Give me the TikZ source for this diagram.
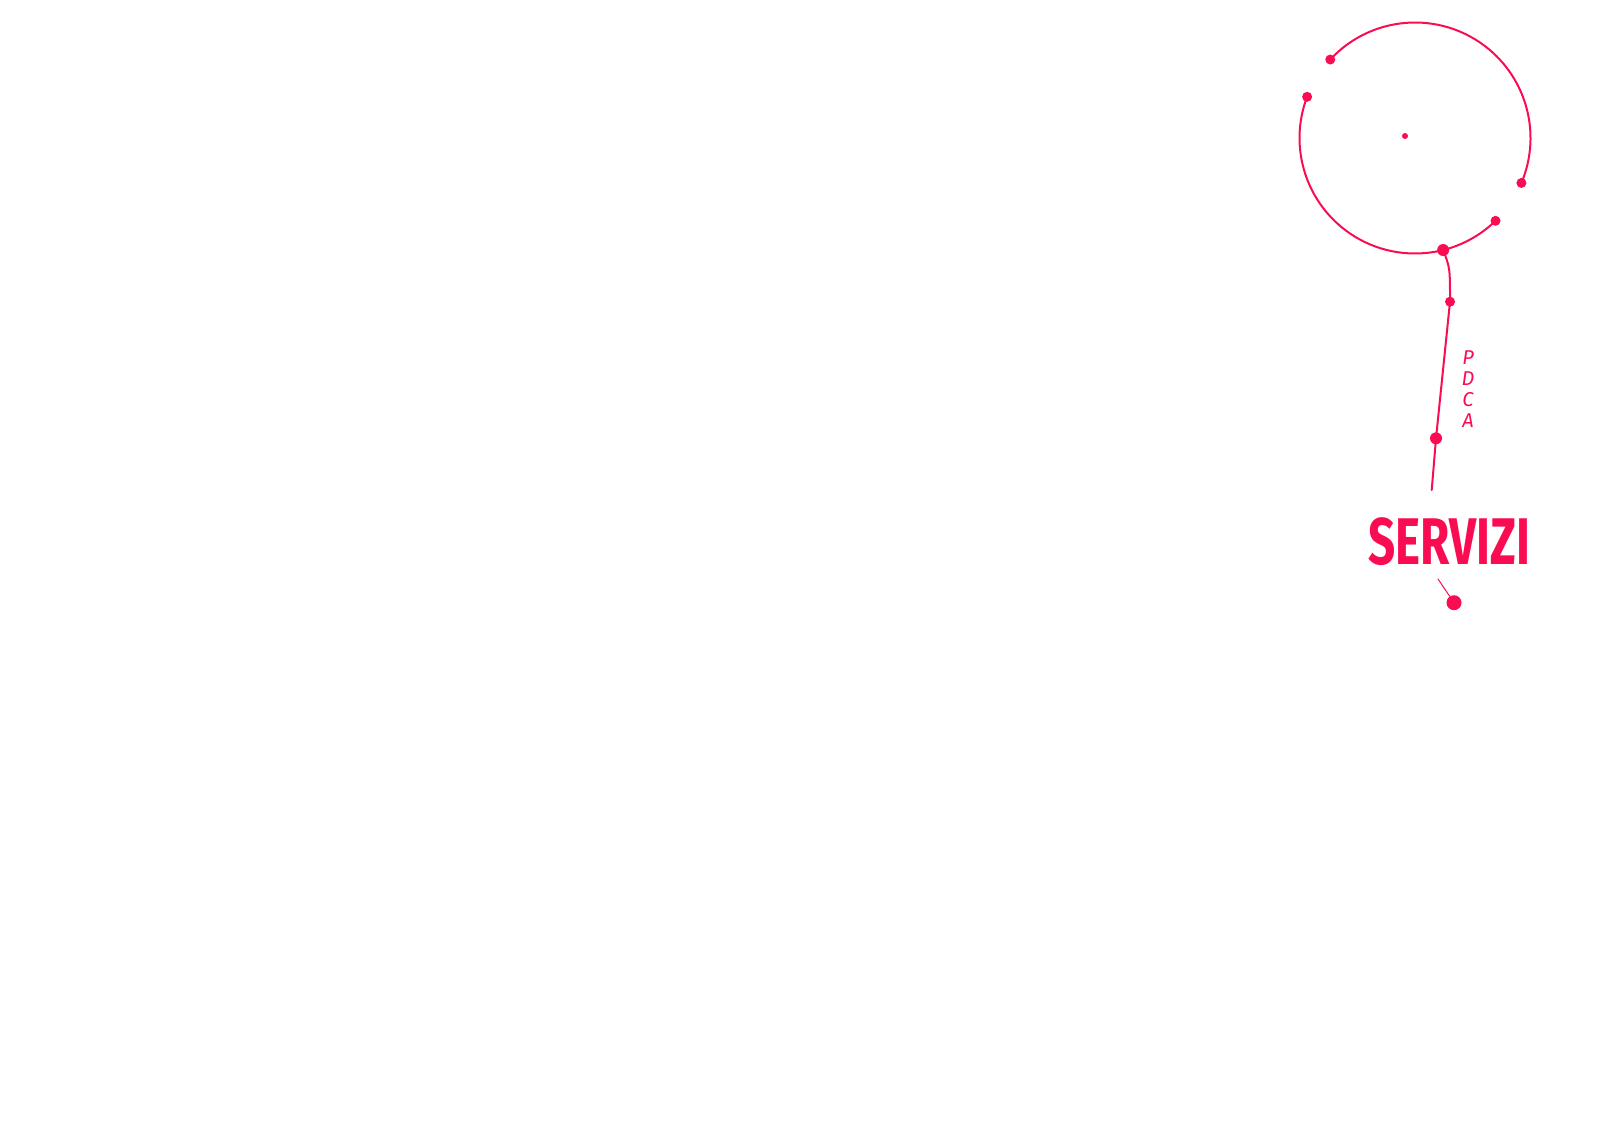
\documentclass[tikz,border=0pt]{standalone}
\usepackage{fontspec}
\setmainfont{Fira Sans}
\definecolor{ink}{RGB}{250,12,82}
\begin{document}
\begin{tikzpicture}[x=0.5pt,y=-0.5pt,
  line/.style={draw=ink,line width=1pt,line cap=round},
  thinline/.style={draw=ink,line width=0.5pt,line cap=round},
  dot/.style={circle,fill=ink,inner sep=0pt,minimum size=5pt},
  bigdot/.style={circle,fill=ink,inner sep=0pt,minimum size=6pt},
  smalldot/.style={circle,fill=ink,inner sep=0pt,minimum size=3pt},
  pindot/.style={circle,fill=ink,inner sep=0pt,minimum size=7.5pt},
  label/.style={text=ink,inner sep=0pt}]
\useasboundingbox (0,0) rectangle (1600,1131);
\coordinate (c) at (1415,138);
% circle arcs
\draw[line] ([shift={(-137.2:115.5)}]c) arc[start angle=-137.2,end angle=22.9,radius=115.5];
\draw[line] ([shift={(45.8:115.5)}]c) arc[start angle=45.8,end angle=200.9,radius=115.5];
% dots on the circle
\node[dot] (a1s) at ([shift={(-137.2:115.5)}]c) {};
\node[dot] (a1e) at ([shift={(22.9:115.5)}]c) {};
\node[dot] (a2s) at ([shift={(45.8:115.5)}]c) {};
\node[dot] (a2e) at ([shift={(200.9:115.5)}]c) {};
\node[bigdot] (j) at ([shift={(75.9:115.5)}]c) {};
\node[smalldot] (ctr) at (1405,136) {};
% vertical line
\node[dot] (p1) at (1450,301.7) {};
\node[bigdot] (p2) at (1436,438.3) {};
\coordinate (e) at (1431.7,490);
\draw[line] (j.center) .. controls (1450,268) .. (p1.center);
\draw[line] (p1.center) -- (p2.center);
\draw[line] (p2.center) -- (e);
% labels
\node[label,font=\fontsize{10}{10.5}\selectfont\itshape,align=center] (pdca) at (1468,389) {P\\D\\C\\A};
\node[label,font=\fontsize{33}{33}\selectfont\bfseries] (serv) at (1449,542) {\scalebox{0.72}[1]{SERVIZI}};
% pin below
\coordinate (t) at (1438,579);
\node[pindot] (pin) at (1454,602.7) {};
\draw[thinline] (t) -- (pin);
\end{tikzpicture}
\end{document}
